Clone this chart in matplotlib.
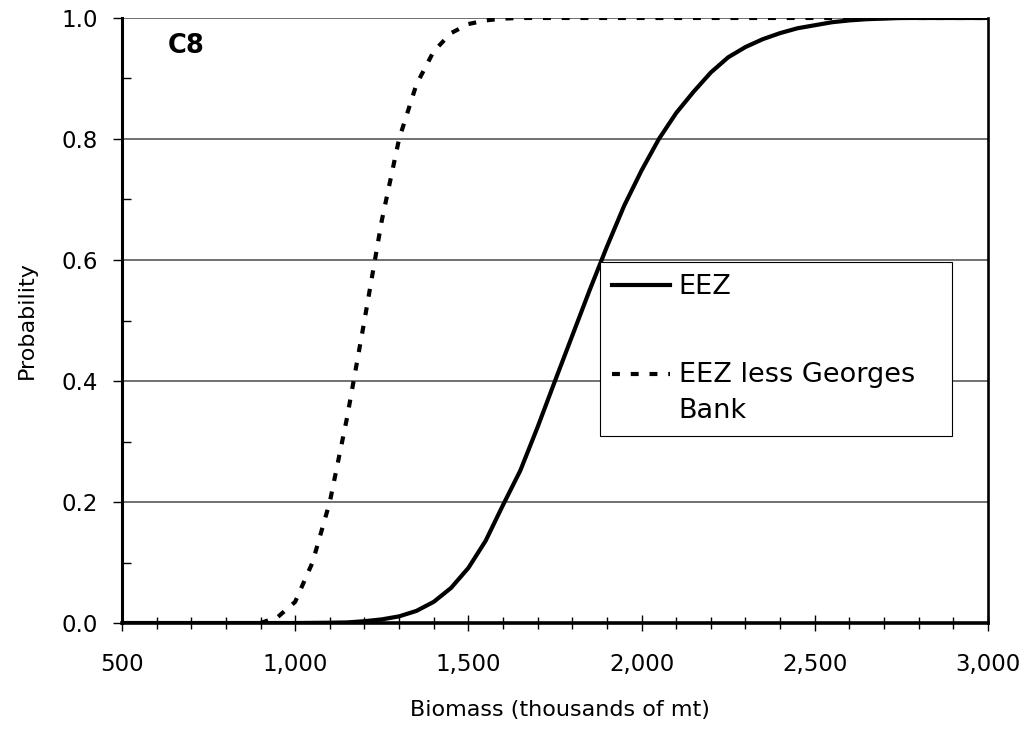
import matplotlib
matplotlib.use("Agg")
import matplotlib.pyplot as plt
from matplotlib.ticker import MultipleLocator, FuncFormatter

plt.rcParams['font.family'] = ['DejaVu Sans']

# Cumulative probability of biomass (thousands of mt)
eez_biomass = [500, 1000, 1100, 1150, 1200, 1250, 1300, 1350, 1400, 1450, 1500,
               1550, 1600, 1650, 1700, 1750, 1800, 1850, 1900, 1950, 2000, 2050,
               2100, 2150, 2200, 2250, 2300, 2350, 2400, 2450, 2500, 2550, 2600,
               2650, 2700, 2750, 2800, 3000]
eez_prob = [0.0, 0.0, 0.0005, 0.001, 0.003, 0.006, 0.011, 0.02, 0.035, 0.058, 0.091,
            0.136, 0.195, 0.252, 0.324, 0.40, 0.475, 0.55, 0.622, 0.69, 0.748, 0.80,
            0.843, 0.878, 0.91, 0.935, 0.952, 0.965, 0.975, 0.983, 0.988, 0.993, 0.996,
            0.998, 0.999, 1.0, 1.0, 1.0]

less_gb_biomass = [900, 950, 1000, 1050, 1100, 1150, 1200, 1250, 1300, 1350, 1400,
                   1450, 1500, 1550, 1600, 1650, 1700, 3000]
less_gb_prob = [0.0, 0.01, 0.035, 0.10, 0.20, 0.34, 0.50, 0.665, 0.80, 0.89, 0.945,
                0.975, 0.99, 0.996, 0.999, 1.0, 1.0, 1.0]

series_labels = ["EEZ", "EEZ less Georges\nBank"]
panel_label = "C8"
x_label = "Biomass (thousands of mt)"
y_label = "Probability"

fig = plt.figure(figsize=(10.3, 7.34), dpi=100)
ax = fig.add_axes([0.1184, 0.1512, 0.8408, 0.8243])

l1, = ax.plot(eez_biomass, eez_prob, color='black', lw=3.0, zorder=3)
l2, = ax.plot(less_gb_biomass, less_gb_prob, color='black', lw=3.0,
              dashes=(1.9, 2.6), zorder=3)

ax.set_xlim(500, 3000)
ax.set_ylim(0, 1)

ax.xaxis.set_major_locator(MultipleLocator(500))
ax.xaxis.set_minor_locator(MultipleLocator(100))
ax.yaxis.set_major_locator(MultipleLocator(0.2))
ax.yaxis.set_minor_locator(MultipleLocator(0.1))
ax.xaxis.set_major_formatter(FuncFormatter(lambda v, p: f"{v:,.0f}"))
ax.yaxis.set_major_formatter(FuncFormatter(lambda v, p: f"{v:.1f}"))

ax.set_axisbelow(True)
ax.yaxis.grid(True, which='major', color='#4a4a4a', lw=1.1)

ax.spines['top'].set_visible(False)
ax.spines['left'].set_linewidth(2.2)
ax.spines['bottom'].set_linewidth(2.6)
ax.spines['right'].set_linewidth(1.9)

ax.tick_params(axis='x', which='major', direction='inout', length=11.5, width=1.0,
               pad=16, labelsize=16.5)
ax.tick_params(axis='x', which='minor', direction='inout', length=9, width=1.0)
ax.tick_params(axis='y', which='major', direction='out', length=6.5, width=1.0,
               pad=11, labelsize=16.5)
ax.tick_params(axis='y', which='minor', direction='in', length=6.5, width=1.0)

ax.set_xlabel(x_label, fontsize=16)
ax.xaxis.set_label_coords(0.506, -0.128)
ax.set_ylabel(y_label, fontsize=16)
ax.yaxis.set_label_coords(-0.098, 0.5)

ax.text(0.053, 0.954, panel_label, transform=ax.transAxes, fontsize=18.5,
        fontweight='bold', ha='left', va='center')

leg = ax.legend([l1, l2], series_labels, loc='upper left',
                bbox_to_anchor=(0.552, 0.311, 0.406, 0.286), mode='expand',
                borderaxespad=0, fontsize=19.5, handlelength=2.15,
                handletextpad=0.3, borderpad=0.45, labelspacing=2.3,
                fancybox=False, framealpha=1, edgecolor='black')
leg.get_frame().set_linewidth(0.8)
leg.get_texts()[1].set_linespacing(1.5)
# keep the dashed key level with the first line of its two-line label
dash_key = leg.get_lines()[1]
dash_key.set_ydata([v + 0.75 * 19.5 for v in dash_key.get_ydata()])

fig.savefig("out.png", dpi=100)
